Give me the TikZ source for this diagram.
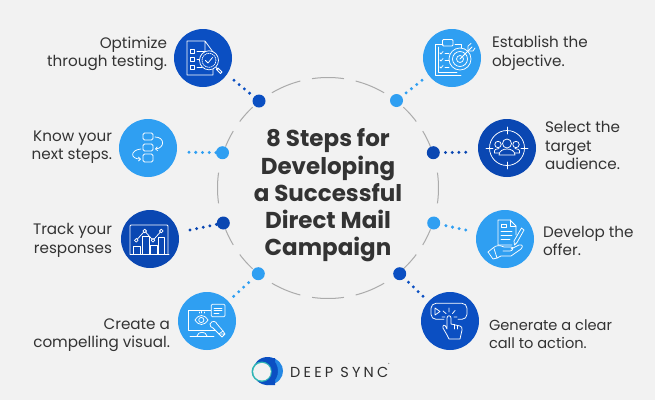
\documentclass[tikz,border=0pt]{standalone}
\usepackage{fontspec}
\setmainfont{Poppins}
\newfontfamily\logofont[LetterSpace=22]{Poppins}
\usetikzlibrary{arrows.meta}
\definecolor{bgc}{HTML}{F2F2F2}
\definecolor{darkb}{HTML}{0B4FC2}
\definecolor{deepb}{HTML}{0A47B2}
\definecolor{lightb}{HTML}{2F9FF2}
\definecolor{ringc}{HTML}{ABABAB}
\definecolor{txt}{HTML}{333333}
\definecolor{tealc}{HTML}{2FB5B5}
\tikzset{
 x=1pt,y=-1pt,
 iconbub/.style={circle,fill=#1,minimum size=58pt,inner sep=0pt,outer sep=0pt},
 hub/.style={circle,fill=#1,minimum size=13pt,inner sep=0pt,outer sep=0pt},
 dotline/.style={draw=#1,line width=3.3pt,line cap=round,dash pattern=on 0pt off 6.75pt},
 ringseg/.style={draw=ringc,line width=1pt},
 lbl/.style={text=txt,font=\fontsize{15.2}{18.5}\selectfont,inner sep=0pt,outer sep=0pt},
 lblL/.style={lbl,align=right,anchor=east},
 lblR/.style={lbl,align=left,anchor=west},
 ttl/.style={text=txt,font=\fontsize{23}{27.3}\selectfont\bfseries,align=center,inner sep=0pt},
 ico/.style={draw=white,line width=.75pt,line join=round,line cap=round},
}
\begin{document}
\begin{tikzpicture}
\useasboundingbox[fill=bgc] (0,0) rectangle (655,400);
% ring
\foreach \a/\b in {-8/8,22/31,37/47,59.5/75.5,81.7/98.3,104.5/120.5,133/143,149/158,172/188,202/211,217/227,239.5/255.5,261.7/278.3,284.5/300.5,313/323,329/338}{
 \draw[ringseg] plot[domain=\a:\b,samples=16,smooth] ({328+110.5*cos(\x)},{188+110.5*sin(\x)});
}
% icons
\node[iconbub=darkb] (i1) at (203,58) {};
\node[iconbub=lightb] (i2) at (148,148) {};
\node[iconbub=deepb] (i3) at (150,239) {};
\node[iconbub=lightb] (i4) at (207,321) {};
\node[iconbub=lightb] (i5) at (452,58) {};
\node[iconbub=deepb] (i6) at (507,148) {};
\node[iconbub=lightb] (i7) at (505,239) {};
\node[iconbub=darkb] (i8) at (450,321) {};
% hubs
\node[hub=darkb] (h1) at (259,101) {};
\node[hub=lightb] (h2) at (222.5,152.7) {};
\node[hub=deepb] (h3) at (223.3,223) {};
\node[hub=lightb] (h4) at (258.3,273.7) {};
\node[hub=lightb] (h5) at (396.5,100.5) {};
\node[hub=deepb] (h6) at (433.3,152.7) {};
\node[hub=lightb] (h7) at (433.7,223) {};
\node[hub=darkb] (h8) at (399.7,273.7) {};
% dotted connectors
\coordinate (d1) at (234,80.3);
\coordinate (d2) at (189,152.3);
\coordinate (d3) at (190,230);
\coordinate (d4) at (233.7,296.3);
\coordinate (d5) at (422,80.3);
\coordinate (d6) at (465.7,152.3);
\coordinate (d7) at (465.7,230);
\coordinate (d8) at (423,296.3);
\draw[dotline=darkb] (d1) -- (h1);
\draw[dotline=lightb] (d2) -- (h2);
\draw[dotline=deepb] (d3) -- (h3);
\draw[dotline=lightb] (d4) -- (h4);
\draw[dotline=lightb] (d5) -- (h5);
\draw[dotline=deepb] (d6) -- (h6);
\draw[dotline=lightb] (d7) -- (h7);
\draw[dotline=darkb] (d8) -- (h8);
% title
\node[ttl] (title) at (328,195.5) {8 Steps for\\Developing\\a Successful\\Direct Mail\\Campaign};
% labels
\node[lblL] (t1) at (167,54) {Optimize\\through testing.};
\node[lblL] (t2) at (112,147) {Know your\\next steps.};
\node[lblL] (t3) at (112,240.5) {Track your\\responses};
\node[lblL] (t4) at (170,335) {Create a\\compelling visual.};
\node[lblR] (t5) at (492,53) {Establish the\\objective.};
\node[lblR] (t6) at (545,145.5) {Select the\\target\\audience.};
\node[lblR] (t7) at (543,241) {Develop the\\offer.};
\node[lblR,font=\fontsize{14.6}{18.5}\selectfont] (t8) at (489,334) {Generate a clear\\call to action.};
% icon 1: document and magnifier
\begin{scope}[shift={(203,58)},ico]
 \draw (10,-6) -- (10,17) -- (-16,17) -- (-16,-17) -- (2,-17) -- (10,-6) -- (2,-6) -- (2,-17);
 \foreach \y in {-7,1,9}{\draw (-12.5,\y-2) rectangle (-8.5,\y+2);}
 \draw (-6,-7) -- (2,-7) (-6,1) -- (-3,1) (-6,9) -- (-1,9);
 \draw[fill=darkb] (6,2.3) circle (9.5);
 \draw[dash pattern=on 1pt off 1pt] (6,2.3) circle (7);
 \draw (2.5,2.5) -- (5,5) -- (9.5,-.5);
 \draw (13,9.5) -- (15,11.5);
 \draw (15,10) -- (19,14) -- (17.5,15.5) -- (13.5,11.5) -- cycle;
\end{scope}
% icon 2: boxes and arrows
\begin{scope}[shift={(148,148)},ico]
 \draw[rounded corners=1.5pt] (-5,-15) rectangle (5,-8);
 \draw[rounded corners=1.5pt] (-5,-4) rectangle (5,3);
 \draw[rounded corners=1.5pt] (-5,6) rectangle (5,14);
 \draw[-{Straight Barb[length=2pt,width=4pt]}] (7,-11) .. controls (17,-11) and (17,0) .. (7,1);
 \draw[-{Straight Barb[length=2pt,width=4pt]}] (-7,1) .. controls (-18,2) and (-18,11) .. (-7,11);
\end{scope}
% icon 3: chart
\begin{scope}[shift={(150,239)},ico]
 \draw[rounded corners=1pt] (-20,15) -- (-20,-14) -- (18,-14) -- (18,15);
 \draw (-20,15) -- (19,15);
 \draw (-16.3,15) -- (-16.3,7.3) -- (-9.7,7.3) -- (-9.7,15);
 \draw (-7.7,15) -- (-7.7,-2.7) -- (-1,-2.7) -- (-1,15);
 \draw (.3,15) -- (.3,6.3) -- (7,6.3) -- (7,15);
 \draw (8.7,15) -- (8.7,-2) -- (14.7,-2) -- (14.7,15);
 \draw (-13.7,1.3) -- (-5.3,-8) -- (3,1.3) -- (11.3,-8);
 \foreach \p in {(-13.7,1.3),(-5.3,-8),(3,1.3),(11.3,-8)}{\draw[fill=deepb] \p circle (1.8);}
\end{scope}
% icon 4: monitor, eye, bubble, brush
\begin{scope}[shift={(207,321)},ico]
 \draw (4,-11) -- (-19,-11) -- (-19,9) -- (10,9);
 \draw (-17,15) -- (7,15);
 \draw (-10,15) .. controls (-9,10) and (-1,10) .. (0,15);
 \draw (-12,-1) .. controls (-8,-7) and (-3,-7) .. (1,-1) .. controls (-3,5) and (-8,5) .. (-12,-1);
 \draw (-5.7,-1) circle (2.6);
 \draw (-8,-9) -- (-8,-8) (-5.5,-9.5) -- (-5.5,-8) (-3,-9) -- (-3,-8);
 \draw[rounded corners=1pt,fill=lightb] (4.3,-16.7) rectangle (18,-4.3);
 \draw (7,-13) -- (15,-13) (7,-10.5) -- (15,-10.5) (7,-8) -- (12,-8);
 \draw[fill=lightb] (3,3) .. controls (5,-1) and (9,0) .. (10,3) -- (16,10) -- (12,13) -- (6,7) .. controls (4,7) and (3,5) .. (3,3);
 \draw (14,13) -- (18,13) (12,13) -- (15,16) -- (18,13) -- (16,10);
\end{scope}
% icon 5: clipboard and target
\begin{scope}[shift={(452,58)},ico]
 \draw (-9,-14) -- (-17,-14) -- (-17,17) -- (9,17);
 \draw (3,-14) -- (9,-14) -- (9,-10);
 \draw (-14,-11) -- (-14,14) -- (5,14);
 \draw[rounded corners=1pt] (-9.5,-12) rectangle (1,-18.5);
 \foreach \y in {-5,2,9}{\draw (-12,\y) -- (-11,\y+1) -- (-9,\y-1.5); \draw (-7,\y) -- (-3,\y);}
 \draw[fill=lightb] (8,1) circle (11);
 \draw (8,1) circle (7.5);
 \draw (8,1) circle (3.5);
 \draw (8,1) -- (20,-11);
 \draw (16,-8) -- (16,-12) -- (19,-14.5) (17,-7) -- (21,-7) -- (23,-10);
\end{scope}
% icon 6: target audience
\begin{scope}[shift={(507,148)},ico]
 \draw (0,0) circle (17.5);
 \draw (0,-21) -- (0,-14) (0,14) -- (0,21) (-21,0) -- (-14,0) (14,0) -- (21,0);
 \draw (0,-4.5) circle (4.5);
 \draw (-9,-3.5) circle (3.2);
 \draw (9,-3.5) circle (3.2);
 \draw (-8,7) .. controls (-8,-1) and (8,-1) .. (8,7) -- cycle;
 \draw (-8,5) -- (-12.5,5) .. controls (-13,1) and (-11,1) .. (-8,.5);
 \draw (8,5) -- (12.5,5) .. controls (13,1) and (11,1) .. (8,.5);
\end{scope}
% icon 7: hand, document, pen
\begin{scope}[shift={(505,239)},ico]
 \draw (7,6) -- (-7,6) -- (-7,-19) -- (5,-19) -- (11,-13) -- (11,-4);
 \draw (5,-19) -- (5,-13) -- (11,-13);
 \draw (-4,-15) rectangle (1,-12);
 \draw (-4,-8) -- (7,-8) (-4,-4) -- (7,-4) (-4,0) -- (5,0);
 \draw (19,-9) -- (16.5,-11) -- (9,2) -- (9.5,6) -- (12,3.5) -- cycle;
 \draw (-17,13) -- (-12,9) .. controls (-9,6) and (-5,6) .. (-1,8) -- (6,8) .. controls (9,8) and (8,12) .. (5,12) -- (-2,12);
 \draw (6,10) -- (14,6) .. controls (18,5) and (18,8) .. (16,10) -- (6,17) -- (-4,17) -- (-8,19);
 \draw (-17,13) -- (-12,20) -- (-8,19) -- (-11,9.5);
\end{scope}
% icon 8: button and hand
\begin{scope}[shift={(450,321)},ico]
 \draw[rounded corners=5pt] (-6,-1.7) -- (-19,-1.7) -- (-19,-17.7) -- (17,-17.7) -- (17,-1.7) -- (8,-1.7);
 \draw (-15,-13) -- (-15,-6) -- (-10,-9.5) -- cycle;
 \draw (-1,-13) -- (-1,-9) (-7,-10) -- (-4,-7.5) (5,-10.5) -- (2.5,-7.5) (-8,-4) -- (-5,-4) (4,-4) -- (7,-4);
 \draw[fill=darkb] (-3,14) -- (-7,7) .. controls (-8,4) and (-5,3) .. (-4,6) -- (-3,8) -- (-3,-3) .. controls (-3,-6) and (1,-6) .. (1,-3) -- (1,3) -- (10,5) .. controls (12,5) and (12,7) .. (12,9) -- (10,18) -- (-1,18) -- (-3,14);
 \draw (4.5,3.5) -- (4.5,8) (7.5,4.5) -- (7.5,8);
\end{scope}
% logo
\fill[darkb] (267.5,371) ellipse [x radius=14.5,y radius=14];
\fill[lightb!70!darkb] (270,357.3) .. controls (279,359) and (283,365) .. (283,371) .. controls (283,377) and (279,383) .. (270,384.7) .. controls (276,381) and (278,376) .. (278,371) .. controls (278,366) and (276,361) .. (270,357.3);
\fill[tealc] (261.7,371.7) circle (10.2);
\fill[darkb] (266,358) .. controls (270,362) and (272.5,367) .. (272,372) .. controls (272.5,377) and (270,381) .. (266,385) -- (275,385) -- (275,358) -- cycle;
\fill[bgc] (262,371.7) circle (8.8);
\node[text=txt!90!black,font=\logofont\fontsize{14.5}{16}\selectfont,anchor=base west,inner sep=0pt] (logo) at (290,377) {DEEP SYNC};
\node[text=txt,font=\fontsize{3}{3}\selectfont,inner sep=0pt] (reg) at (389,364) {®};
\end{tikzpicture}
\end{document}
